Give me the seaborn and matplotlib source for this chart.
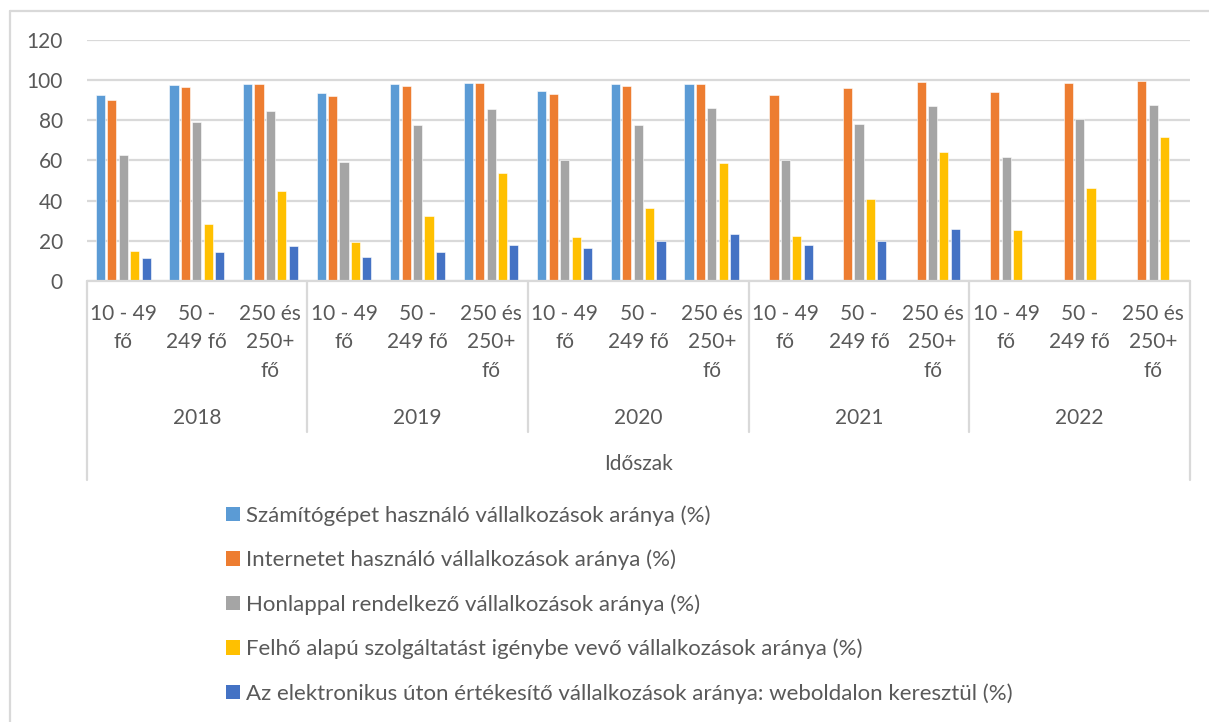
import numpy as np
import pandas as pd
import matplotlib
matplotlib.use("Agg")
import matplotlib.pyplot as plt
from matplotlib.lines import Line2D
from matplotlib.transforms import blended_transform_factory
import seaborn as sns

# ---------------- data ----------------
years = ["2018", "2019", "2020", "2021", "2022"]
sizes = ["10 - 49 fő", "50 - 249 fő", "250 és 250+ fő"]
size_lines = [["10 - 49", "fő"], ["50 -", "249 fő"], ["250 és", "250+", "fő"]]
series_names = [
    "Számítógépet használó vállalkozások aránya (%)",
    "Internetet használó vállalkozások aránya (%)",
    "Honlappal rendelkező vállalkozások aránya (%)",
    "Felhő alapú szolgáltatást igénybe vevő vállalkozások aránya (%)",
    "Az elektronikus úton értékesítő vállalkozások aránya: weboldalon keresztül (%)",
]
computer = [92.7, 97.5, 98.3, 93.8, 97.9, 98.7, 94.8, 98.3, 98.3,
            np.nan, np.nan, np.nan, np.nan, np.nan, np.nan]
internet = [90.0, 96.8, 98.2, 92.0, 97.2, 98.7, 93.0, 97.3, 98.3,
            92.8, 96.2, 99.2, 94.2, 98.7, 99.8]
website = [62.7, 79.1, 84.8, 59.2, 77.9, 85.6, 60.0, 77.9, 86.1,
           60.2, 78.3, 87.0, 61.9, 80.8, 87.5]
cloud = [15.0, 28.6, 45.0, 19.6, 32.6, 53.7, 21.9, 36.3, 58.7,
         22.2, 41.0, 64.2, 25.2, 46.2, 71.6]
ecommerce = [11.4, 14.6, 17.4, 11.9, 14.6, 17.7, 16.6, 19.7, 23.4,
             17.7, 19.9, 26.1, np.nan, np.nan, np.nan]
yticks = [0, 20, 40, 60, 80, 100, 120]
x_title = "Időszak"

colors = ["#5B9BD5", "#ED7D31", "#A5A5A5", "#FFC000", "#4472C4"]
text_color = "#595959"
grid_color = "#D9D9D9"

# ---------------- long data ----------------
cats = [f"{y}|{s}" for y in years for s in sizes]
rows = []
for name, vals in zip(series_names, [computer, internet, website, cloud, ecommerce]):
    for c, v in zip(cats, vals):
        rows.append({"cat": c, "series": name, "value": v})
df = pd.DataFrame(rows).dropna()

sns.set_theme(style="white")
plt.rcParams["font.family"] = ["Lato", "DejaVu Sans"]
FS = 15
LFS = 16

W, H = 1209, 722
fig = plt.figure(figsize=(W / 100, H / 100), dpi=100)
left_px, right_px, top_px, bot_px = 86.5, 1190, 40, 281
ax = fig.add_axes([left_px / W, 1 - bot_px / H, (right_px - left_px) / W, (bot_px - top_px) / H])

sns.barplot(data=df, x="cat", y="value", hue="series", order=cats,
            hue_order=series_names, palette=colors, errorbar=None,
            width=0.775, gap=0.2, ax=ax, legend=True, saturation=1,
            edgecolor="white", linewidth=0.4)

ax.set_ylim(0, 120)
ax.set_xlim(-0.5, len(cats) - 0.5)
ax.set_yticks(yticks)
ax.set_yticklabels([str(t) for t in yticks], fontsize=FS, color=text_color)
ax.tick_params(axis="y", length=0, pad=17)
ax.set_xticks([])
ax.set_xlabel("")
ax.set_ylabel("")
for sp in ax.spines.values():
    sp.set_visible(False)
ax.set_axisbelow(True)
ax.yaxis.grid(True, color=grid_color, linewidth=1.6)
ax.xaxis.grid(False)

handles, labels = ax.get_legend_handles_labels()
if ax.get_legend() is not None:
    ax.get_legend().remove()

# ---------------- category axis (multi-level) ----------------
def fy(px):
    return 1 - px / H

tr = blended_transform_factory(ax.transData, fig.transFigure)
line_kw = dict(color=grid_color, linewidth=1.6, transform=tr, clip_on=False)
ax.add_line(Line2D([-0.5, len(cats) - 0.5], [fy(281), fy(281)], **line_kw))
for xb in [-0.5, len(cats) - 0.5]:
    ax.add_line(Line2D([xb, xb], [fy(281), fy(480)], **line_kw))
for k in range(1, len(years)):
    xb = k * len(sizes) - 0.5
    ax.add_line(Line2D([xb, xb], [fy(281), fy(432)], **line_kw))

baselines = [320, 348.5, 377]
for i, c in enumerate(cats):
    lines = size_lines[i % len(sizes)]
    for j, ln in enumerate(lines):
        fig.text(i, fy(baselines[j]), ln, transform=tr, ha="center",
                 va="baseline", fontsize=FS, color=text_color)
for k, y in enumerate(years):
    xc = k * len(sizes) + (len(sizes) - 1) / 2
    fig.text(xc, fy(423.5), y, transform=tr, ha="center", va="baseline",
             fontsize=FS, color=text_color)
fig.text((len(cats) - 1) / 2, fy(470.5), x_title, transform=tr, ha="center",
         va="baseline", fontsize=FS, color=text_color)

# ---------------- legend ----------------
leg = fig.legend(handles, labels, loc="upper left",
                 bbox_to_anchor=(226 / W, fy(505)), frameon=False,
                 fontsize=LFS, labelcolor=text_color, handlelength=0.63,
                 handleheight=0.63, handletextpad=0.28, labelspacing=1.08,
                 borderpad=0, borderaxespad=0)
for h in leg.legend_handles:
    h.set_edgecolor("none")

# ---------------- chart border ----------------
fig.add_artist(Line2D([10 / W, 1.0], [fy(11), fy(11)], color=grid_color,
                      linewidth=1.6, transform=fig.transFigure))
fig.add_artist(Line2D([10 / W, 10 / W], [fy(11), 0.0], color=grid_color,
                      linewidth=1.6, transform=fig.transFigure))

fig.savefig("out.png", dpi=100, facecolor="white")
